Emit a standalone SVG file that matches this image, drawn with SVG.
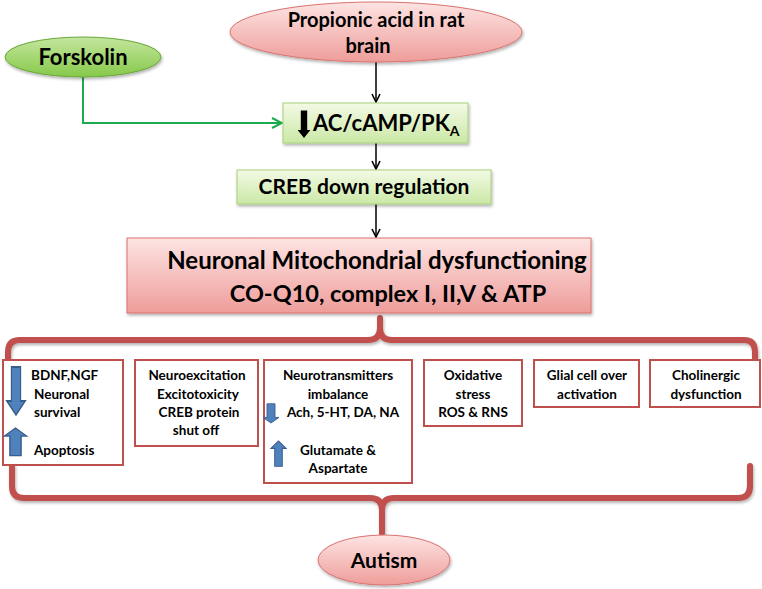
<svg xmlns="http://www.w3.org/2000/svg" width="762" height="589" viewBox="0 0 762 589">
<defs>
<linearGradient id="pink" x1="0" y1="0" x2="0" y2="1">
<stop offset="0" stop-color="#fde4e3"/><stop offset="1" stop-color="#ee9d9a"/>
</linearGradient>
<linearGradient id="lgreen" x1="0" y1="0" x2="0" y2="1">
<stop offset="0" stop-color="#f3fae6"/><stop offset="1" stop-color="#cbe8a5"/>
</linearGradient>
<linearGradient id="dgreen" x1="0" y1="0" x2="0" y2="1">
<stop offset="0" stop-color="#c4e69e"/><stop offset="1" stop-color="#86c94a"/>
</linearGradient>
<filter id="sh" x="-10%" y="-10%" width="130%" height="140%">
<feDropShadow dx="1" dy="2" stdDeviation="1.5" flood-color="#000" flood-opacity="0.3"/>
</filter>
<marker id="ab" viewBox="0 0 10 10" refX="9" refY="5" markerWidth="10" markerHeight="10" markerUnits="userSpaceOnUse" orient="auto">
<path d="M1,1 L9,5 L1,9" fill="none" stroke="#000" stroke-width="1.6"/>
</marker>
<marker id="ag" viewBox="0 0 12 12" refX="11" refY="6" markerWidth="12" markerHeight="12" markerUnits="userSpaceOnUse" orient="auto">
<path d="M1,1 L11,6 L1,11" fill="none" stroke="#1daa4f" stroke-width="2"/>
</marker>
<path id="darr" d="M-4,-24 L4,-24 L4,-7 L8,-7 L0,0 L-8,-7 L-4,-7 Z"/>
</defs>
<style>
text{font-family:Lato,"Liberation Sans",sans-serif;font-weight:bold;fill:#000;text-anchor:middle}
.s{font-size:13.5px}
.box{fill:#fff;stroke:#c0504d;stroke-width:2}
.brace{fill:none;stroke:#c0504d;stroke-width:6;stroke-linecap:round;stroke-linejoin:round}
.blue{fill:#4f81bd;stroke:#385d8a;stroke-width:1}
.conn{fill:none;stroke:#000;stroke-width:1.5}
</style>

<g id="connectors">
<path class="conn" d="M376,62 L376,102" marker-end="url(#ab)"/>
<path class="conn" d="M376,143 L376,169" marker-end="url(#ab)"/>
<path class="conn" d="M376,204 L376,237" marker-end="url(#ab)"/>
<path d="M83,77 L83,123 L282,123" fill="none" stroke="#1daa4f" stroke-width="2" marker-end="url(#ag)"/>
<g filter="url(#sh)">
<path class="brace" d="M8,366 L8,352 Q8,340 20,340 L368,340 Q380,340 380,328 L380,318 M380,328 Q380,340 392,340 L744,340 Q755,340 755,352 L755,366"/>
<path class="brace" d="M12,466 L12,486 Q12,498 24,498 L370,498 Q382,498 382,510 L382,533 M382,510 Q382,498 394,498 L738,498 Q750,498 750,486 L750,466"/>
</g>
</g>

<g id="propionic">
<ellipse cx="376" cy="32" rx="146" ry="30" fill="url(#pink)" stroke="#d9736f" stroke-width="1" filter="url(#sh)"/>
<text x="376" y="27" font-size="20">Propionic acid in rat</text>
<text x="368" y="53" font-size="20">brain</text>
</g>

<g id="forskolin">
<ellipse cx="83" cy="57" rx="78" ry="20" fill="url(#dgreen)" stroke="#6aa73a" stroke-width="1" filter="url(#sh)"/>
<text x="83" y="65" font-size="22">Forskolin</text>
</g>

<g id="ac">
<rect x="283" y="103" width="185" height="40" fill="url(#lgreen)" stroke="#a8cf7a" stroke-width="1" filter="url(#sh)"/>
<use href="#darr" transform="translate(304,138) scale(0.8,1.15)" fill="#000"/>
<text x="313" y="131" font-size="22" style="text-anchor:start">AC/cAMP/PK<tspan font-size="14" dy="5">A</tspan></text>
</g>

<g id="creb">
<rect x="237" y="170" width="254" height="34" fill="url(#lgreen)" stroke="#a8cf7a" stroke-width="1" filter="url(#sh)"/>
<text x="364" y="194" font-size="21">CREB down regulation</text>
</g>

<g id="mito">
<rect x="127" y="238" width="464" height="75" fill="url(#pink)" stroke="#d9736f" stroke-width="1" filter="url(#sh)"/>
<text x="377" y="269" font-size="24">Neuronal Mitochondrial dysfunctioning</text>
<text x="388" y="302" font-size="23.5">CO-Q10, complex I, II,V &amp; ATP</text>
</g>

<g id="bdnf">
<rect class="box" x="3" y="360" width="120" height="105"/>
<use href="#darr" class="blue" transform="translate(16,415) scale(1.15,2.0)"/>
<use href="#darr" class="blue" transform="translate(15.5,428) scale(1.4,-1.15)"/>
<text class="s" x="31" y="380" style="text-anchor:start">BDNF,NGF</text>
<text class="s" x="34" y="399" style="text-anchor:start">Neuronal</text>
<text class="s" x="34" y="417" style="text-anchor:start">survival</text>
<text class="s" x="34" y="455" style="text-anchor:start">Apoptosis</text>
</g>

<g id="neuroexc">
<rect class="box" x="135" y="360" width="123" height="86"/>
<text class="s" x="197" y="380">Neuroexcitation</text>
<text class="s" x="198" y="399">Excitotoxicity</text>
<text class="s" x="199" y="417">CREB  protein</text>
<text class="s" x="196" y="435">shut off</text>
</g>

<g id="neurotrans">
<rect class="box" x="264" y="360" width="148" height="123"/>
<use href="#darr" class="blue" transform="translate(271,423) scale(1.0,0.8)"/>
<use href="#darr" class="blue" transform="translate(278.5,441) scale(0.95,-1.05)"/>
<text class="s" x="338" y="380">Neurotransmitters</text>
<text class="s" x="338" y="399">imbalance</text>
<text class="s" x="343" y="417">Ach, 5-HT, DA, NA</text>
<text class="s" x="338" y="455">Glutamate &amp;</text>
<text class="s" x="338" y="473">Aspartate</text>
</g>

<g id="oxidative">
<rect class="box" x="424" y="360" width="98" height="66"/>
<text class="s" x="473" y="380">Oxidative</text>
<text class="s" x="473" y="399">stress</text>
<text class="s" x="473" y="417">ROS &amp; RNS</text>
</g>

<g id="glial">
<rect class="box" x="534" y="360" width="105" height="47"/>
<text class="s" x="587" y="380">Glial cell over</text>
<text class="s" x="587" y="399">activation</text>
</g>

<g id="cholinergic">
<rect class="box" x="650" y="360" width="110" height="47"/>
<text class="s" x="706" y="380">Cholinergic</text>
<text class="s" x="706" y="399">dysfunction</text>
</g>

<g id="autism">
<ellipse cx="384" cy="560" rx="66" ry="25" fill="url(#pink)" stroke="#d9736f" stroke-width="1" filter="url(#sh)"/>
<text x="384" y="568" font-size="21">Autism</text>
</g>
</svg>
